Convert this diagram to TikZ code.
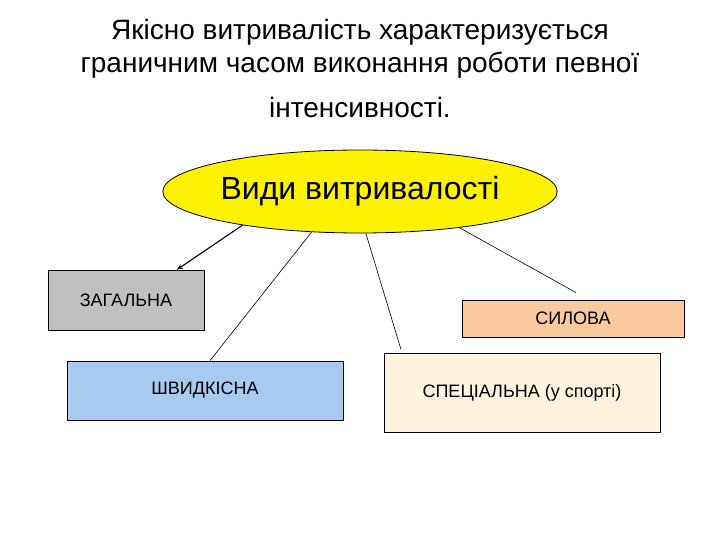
\documentclass[tikz,border=0pt]{standalone}
\usepackage{fontspec}
\setmainfont{Liberation Sans}
\usetikzlibrary{shapes.geometric,arrows.meta}
\definecolor{grayfill}{RGB}{192,192,192}
\definecolor{bluefill}{RGB}{166,202,240}
\definecolor{peachfill}{RGB}{250,202,158}
\definecolor{creamfill}{RGB}{253,243,222}
\tikzset{
  titletext/.style={anchor=base, font=\fontsize{28}{33}\selectfont},
  kindbox/.style={draw=black, line width=0.8pt, inner sep=0pt, font=\fontsize{18}{21}\selectfont},
  link/.style={draw=black, line width=0.6pt},
}
\begin{document}
\begin{tikzpicture}[x=1pt,y=-1pt]
\useasboundingbox[fill=white] (0,0) rectangle (720,540);
\node[titletext] (t1) at (360,40) {Якісно витривалість характеризується};
\node[titletext] (t2) at (360,73) {граничним часом виконання роботи певної};
\node[titletext] (t3) at (360,118) {інтенсивності.};
\node[ellipse, draw=black, line width=0.8pt, fill=yellow, minimum width=384pt, minimum height=83pt, inner sep=0pt, font=\fontsize{32}{38}\selectfont] (e) at (360,191.5) {Види витривалості};
\node[kindbox, fill=grayfill, minimum width=156pt, minimum height=60pt] (zag) at (126,300) {ЗАГАЛЬНА};
\node[kindbox, fill=peachfill, minimum width=222pt, minimum height=37pt] (syl) at (573,318.5) {СИЛОВА};
\node[kindbox, fill=bluefill, minimum width=276pt, minimum height=59pt] (shv) at (205,390.5) {ШВИДКІСНА};
\node[kindbox, fill=creamfill, minimum width=276pt, minimum height=79pt] (spec) at (522,392.5) {СПЕЦІАЛЬНА (у спорті)};
\draw[link, line width=1.1pt, -{Stealth[length=6pt,width=5pt]}] (e.196) -- ([xshift=51pt]zag.north);
\draw[link] (e.220.5) -- ([xshift=5pt]shv.north);
\draw[link] (e.278.3) -- ([xshift=-121pt,yshift=3pt]spec.north);
\draw[link] (e.340.7) -- ([xshift=3pt,yshift=7pt]syl.north);
\end{tikzpicture}
\end{document}
